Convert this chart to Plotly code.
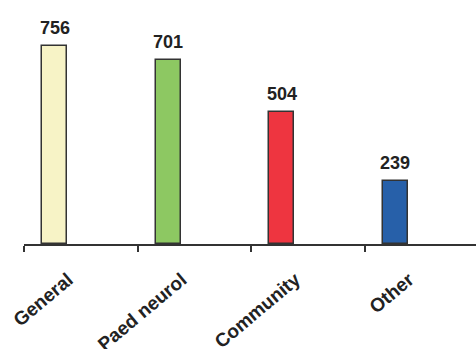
import plotly.graph_objects as go

# Referral source counts
categories = ["General", "Paed neurol", "Community", "Other"]
counts = [756, 701, 504, 239]
bar_colors = ["#F7F3C6", "#8DC862", "#EE3540", "#2760A9"]

n = len(categories)
slot_offset = 0.27      # bar centre within each category slot
bar_width = 0.22

bar_x = [i + slot_offset for i in range(n)]
label_x = [i + 0.39 for i in range(n)]

fig = go.Figure()
fig.add_trace(go.Bar(
    x=bar_x,
    y=counts,
    width=bar_width,
    marker=dict(color=bar_colors, line=dict(color="#333333", width=1.5)),
    showlegend=False,
    hoverinfo="skip",
))

# value labels above the bars
for xv, yv in zip(bar_x, counts):
    fig.add_annotation(
        x=xv, y=yv, text=f"<b>{yv}</b>", showarrow=False,
        yanchor="bottom", yshift=6,
        font=dict(family="Liberation Sans", size=18, color="#222222"),
    )

# dummy trace so the label axis is drawn
fig.add_trace(go.Scatter(x=[0], y=[0], xaxis="x2", mode="markers",
                         marker=dict(opacity=0), showlegend=False,
                         hoverinfo="skip"))

x_range = [0, 3.98]
fig.update_layout(
    width=476, height=349,
    margin=dict(l=24, r=0, t=8, b=105, autoexpand=False),
    paper_bgcolor="white", plot_bgcolor="white",
    bargap=0,
    xaxis=dict(
        range=x_range, tickvals=list(range(n)), ticktext=[""] * n,
        ticks="outside", ticklen=6, tickwidth=1.5, tickcolor="#333333",
        showline=True, linecolor="#333333", linewidth=1.5,
        showgrid=False, zeroline=False, automargin=False,
    ),
    xaxis2=dict(
        range=x_range, overlaying="x", side="bottom", anchor="y",
        tickvals=label_x, ticktext=[f"<b>{c}</b>" for c in categories],
        tickangle=-40, ticks="", showline=False, showgrid=False,
        zeroline=False, ticklabelstandoff=20, automargin=False,
        tickfont=dict(family="Liberation Sans", size=19, color="#222222"),
    ),
    yaxis=dict(
        range=[0, 900], visible=False, showgrid=False, zeroline=False,
        automargin=False,
    ),
)

fig.write_html("out.html")
